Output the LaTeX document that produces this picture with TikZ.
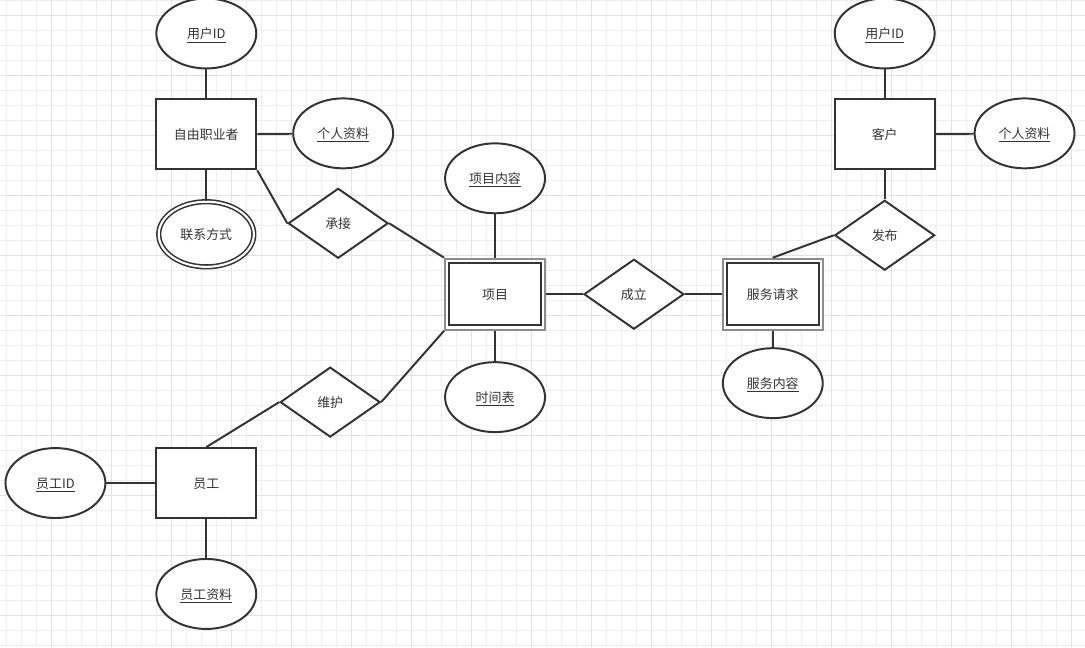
\documentclass[tikz,border=0pt]{standalone}
\usepackage{fontspec}
\setmainfont{Noto Sans CJK SC}
\usepackage{tikz}
\usetikzlibrary{positioning,shapes.geometric}
\definecolor{inkgray}{RGB}{51,51,51}
\definecolor{weakgray}{RGB}{140,140,140}
\definecolor{gridminor}{RGB}{238,238,238}
\definecolor{gridmajor}{RGB}{226,226,226}

\begin{document}
\begin{tikzpicture}[x=0.025cm, y=-0.025cm,
        every node/.style={font=\fontsize{9.2}{11}\selectfont, text=inkgray, text height=0.88em, text depth=0.12em},
        ent/.style={draw=inkgray, line width=1.4pt, fill=white, minimum width=2.5cm, minimum height=1.75cm, inner sep=2pt},
        wkent/.style={draw=weakgray, line width=1.4pt, fill=white, minimum width=2.5cm, minimum height=1.78cm, inner sep=2pt,
                      path picture={\draw[inkgray, line width=1.4pt]
                          ([xshift=0.1cm, yshift=-0.12cm]path picture bounding box.north west) rectangle
                          ([xshift=-0.1cm, yshift=0.12cm]path picture bounding box.south east);}},
        attr/.style={ellipse, draw=inkgray, line width=1.4pt, fill=white, minimum width=2.5cm, minimum height=1.75cm, inner sep=1pt},
        mattr/.style={attr, line width=1.1pt, double=white, double distance=1.5pt, minimum width=2.38cm, minimum height=1.63cm},
        rel/.style={diamond, draw=inkgray, line width=1.4pt, fill=white, minimum width=2.5cm, minimum height=1.75cm, inner sep=0pt},
        conn/.style={draw=inkgray, line width=1.4pt},
        gline/.style={draw=gridminor, line width=0.7pt},
        mline/.style={draw=gridmajor, line width=0.7pt}
    ]
    % background grid
    \fill[white] (0,0) rectangle (1085,647);
    \foreach \gx in {6.5,21.5,...,1085} \draw[gline] (\gx,0) -- (\gx,647);
    \foreach \gy in {0.5,15.5,...,647} \draw[gline] (0,\gy) -- (1085,\gy);
    \foreach \gx in {51.5,111.5,...,1085} \draw[mline] (\gx,0) -- (\gx,647);
    \foreach \gy in {15.5,75.5,...,647} \draw[mline] (0,\gy) -- (1085,\gy);
    \useasboundingbox (0,0) rectangle (1085,647);

    % freelancer
    \node[ent]  (free)    at (206,134) {自由职业者};
    \node[attr] (freeid)  at (206,33)  {\underline{用户ID}};
    \node[attr] (freeinf) at (343,133) {\underline{个人资料}};
    \node[mattr](contact) at (206,234) {联系方式};
    \node[rel]  (accept)  at (338,223) {承接};

    % project
    \node[wkent](proj)    at (495,294) {项目};
    \node[attr] (projcon) at (495,178) {\underline{项目内容}};
    \node[attr] (sched)   at (495,397) {\underline{时间表}};
    \node[rel]  (found)   at (634,294) {成立};

    % service request
    \node[wkent](req)     at (773,294) {服务请求};
    \node[attr] (reqcon)  at (773,383) {\underline{服务内容}};
    \node[rel]  (publish) at (885,235) {发布};

    % client
    \node[ent]  (client)  at (885,134) {客户};
    \node[attr] (cliid)   at (885,33)  {\underline{用户ID}};
    \node[attr] (cliinf)  at (1025,133){\underline{个人资料}};

    % staff
    \node[rel]  (maint)   at (330,402) {维护};
    \node[ent]  (staff)   at (206,483) {员工};
    \node[attr] (staffid) at (55,483)  {\underline{员工ID}};
    \node[attr] (staffinf)at (206,594) {\underline{员工资料}};

    \draw[conn] (freeid) -- (free);
    \draw[conn] (free) -- (freeinf);
    \draw[conn] (free) -- (contact);
    \draw[conn] (free.south east) -- (accept.west);
    \draw[conn] (accept.east) -- (proj.north west);
    \draw[conn] (projcon) -- (proj);
    \draw[conn] (proj) -- (sched);
    \draw[conn] (proj) -- (found);
    \draw[conn] (found) -- (req);
    \draw[conn] (req) -- (reqcon);
    \draw[conn] (req.north) -- (publish.west);
    \draw[conn] (client) -- (publish);
    \draw[conn] (cliid) -- (client);
    \draw[conn] (client) -- (cliinf);
    \draw[conn] (proj.south west) -- (maint.east);
    \draw[conn] (maint.west) -- (staff.north);
    \draw[conn] (staffid) -- (staff);
    \draw[conn] (staff) -- (staffinf);
    \end{tikzpicture}
\end{document}
